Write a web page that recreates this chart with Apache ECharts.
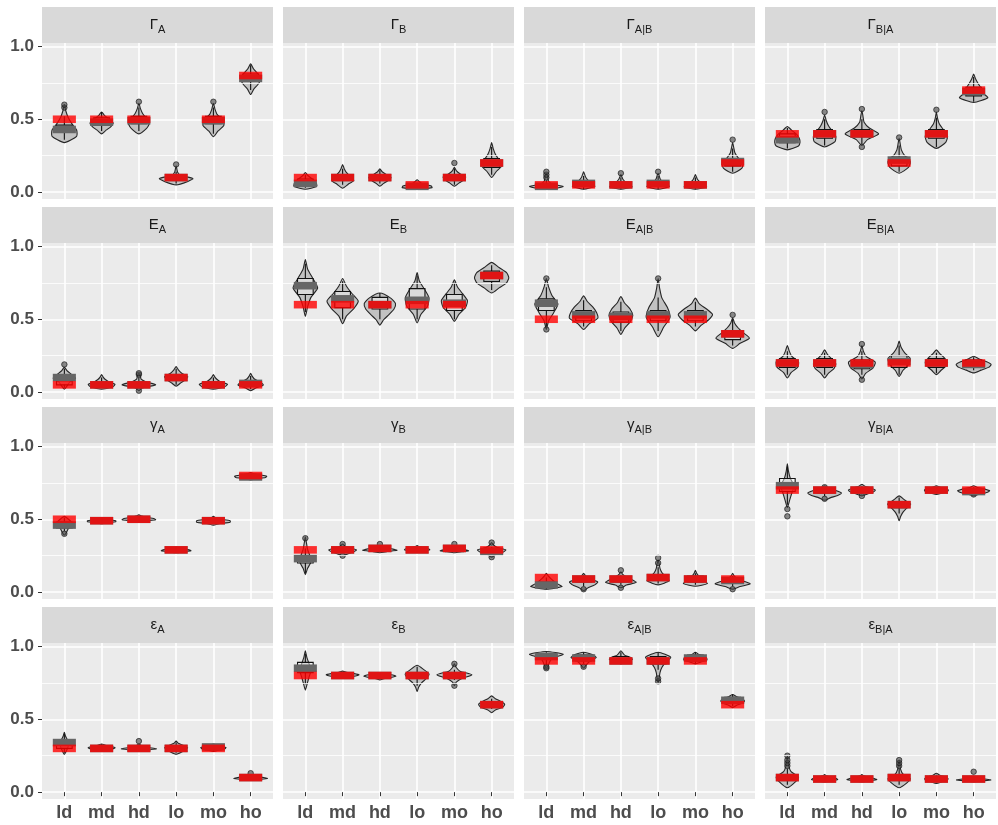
<!DOCTYPE html>
<html><head><meta charset="utf-8">
<script src="https://cdn.jsdelivr.net/npm/echarts@6/dist/echarts.min.js"></script>
<style>html,body{margin:0;padding:0;background:#fff}#c{width:998px;height:825px}</style>
</head><body><div id="c"></div>
<script>
const categories = ['ld','md','hd','lo','mo','ho'];
const panelSymbols = ['Γ','Γ','Γ','Γ','E','E','E','E','γ','γ','γ','γ','ε','ε','ε','ε'];
const panelSubs = ['A','B','A|B','B|A','A','B','A|B','B|A','A','B','A|B','B|A','A','B','A|B','B|A'];
const yTickValues = [0, 0.5, 1];
const yMinorValues = [0.25, 0.75];

// true values (red bars)
const trueVals = [
 [.5,.5,.5,.1,.5,.8],[.1,.1,.1,.05,.1,.2],[.05,.05,.05,.05,.05,.2],[.4,.4,.4,.2,.4,.7],
 [.05,.05,.05,.1,.05,.05],[.6,.6,.6,.6,.6,.8],[.5,.5,.5,.5,.5,.4],[.2,.2,.2,.2,.2,.2],
 [.5,.49,.5,.29,.49,.8],[.29,.29,.3,.29,.3,.29],[.1,.09,.09,.1,.09,.09],[.7,.7,.7,.6,.7,.7],
 [.3,.3,.3,.3,.3,.1],[.8,.8,.8,.8,.8,.6],[.9,.9,.9,.9,.9,.6],[.1,.09,.09,.1,.09,.09]
];
// estimated values (grey bars)
const estVals = [
 [.43,.48,.49,.10,.49,.78],[.06,.10,.10,.04,.10,.20],[.04,.06,.05,.06,.05,.21],[.36,.40,.40,.22,.40,.69],
 [.10,.05,.05,.10,.05,.06],[.73,.64,.60,.63,.61,.80],[.61,.53,.52,.53,.53,.40],[.20,.20,.19,.21,.20,.19],
 [.46,.49,.50,.29,.49,.79],[.23,.29,.30,.29,.30,.28],[.05,.09,.09,.10,.09,.08],[.73,.70,.70,.60,.70,.69],
 [.34,.30,.30,.30,.31,.10],[.85,.80,.80,.80,.80,.60],[.93,.92,.90,.90,.92,.63],[.10,.09,.09,.10,.09,.09]
];
// violin outlines: [low, high, half-widths at 1/6..5/6 of the range]
const violinShapes = [
 [[.34,.60,.33,.33,.20,.10,.04],[.40,.55,.12,.25,.31,.20,.08],[.40,.61,.20,.28,.20,.10,.04],[.05,.18,.30,.45,.12,.04,.02],[.38,.61,.12,.28,.25,.10,.04],[.67,.88,.08,.20,.27,.20,.08]],
 [[.02,.135,.30,.30,.25,.15,.06],[.027,.19,.15,.30,.20,.10,.04],[.04,.16,.10,.22,.30,.18,.06],[.02,.085,.40,.38,.20,.10,.05],[.04,.17,.12,.25,.30,.15,.05],[.10,.34,.12,.27,.20,.10,.04]],
 [[.02,.13,.45,.15,.06,.04,.03],[.02,.14,.30,.20,.12,.06,.03],[.02,.12,.30,.22,.12,.06,.03],[.02,.13,.30,.20,.10,.05,.03],[.02,.12,.30,.20,.12,.06,.03],[.13,.34,.25,.27,.15,.06,.03]],
 [[.29,.45,.30,.34,.32,.25,.12],[.31,.53,.28,.30,.20,.10,.04],[.32,.56,.15,.45,.20,.06,.03],[.13,.37,.25,.30,.15,.06,.03],[.30,.55,.25,.30,.20,.08,.03],[.615,.81,.38,.25,.20,.12,.05]],
 [[.02,.17,.08,.15,.30,.20,.08],[.02,.12,.30,.36,.20,.10,.04],[.01,.13,.10,.45,.20,.06,.04],[.04,.175,.12,.25,.31,.15,.06],[.02,.12,.30,.38,.20,.10,.04],[.01,.13,.15,.34,.25,.10,.04]],
 [[.52,.91,.06,.15,.33,.20,.06],[.47,.78,.10,.30,.42,.25,.10],[.46,.68,.10,.25,.38,.42,.30],[.475,.82,.10,.28,.32,.20,.06],[.486,.77,.12,.30,.35,.22,.08],[.68,.89,.20,.40,.46,.40,.20]],
 [[.43,.78,.06,.20,.31,.15,.06],[.43,.66,.15,.38,.35,.25,.10],[.395,.655,.10,.25,.32,.25,.10],[.38,.78,.15,.32,.25,.10,.04],[.42,.645,.15,.35,.46,.30,.10],[.30,.51,.20,.45,.30,.15,.05]],
 [[.097,.32,.10,.28,.30,.12,.05],[.097,.29,.10,.25,.30,.20,.08],[.09,.32,.10,.30,.36,.12,.04],[.108,.35,.10,.25,.30,.15,.05],[.12,.29,.12,.25,.30,.22,.10],[.132,.246,.20,.40,.47,.35,.15]],
 [[.39,.52,.06,.10,.15,.20,.12],[.47,.51,.20,.38,.38,.20,.08],[.48,.53,.20,.45,.40,.20,.08],[.27,.31,.20,.40,.35,.20,.06],[.46,.52,.15,.45,.45,.20,.06],[.77,.82,.15,.40,.43,.25,.08]],
 [[.12,.38,.06,.15,.12,.06,.03],[.25,.33,.15,.30,.37,.20,.06],[.27,.32,.20,.46,.35,.15,.05],[.275,.32,.20,.34,.30,.15,.05],[.27,.31,.20,.38,.30,.12,.05],[.24,.34,.10,.30,.38,.15,.05]],
 [[.02,.13,.42,.30,.20,.12,.05],[.01,.13,.12,.30,.38,.20,.06],[.03,.14,.15,.41,.30,.15,.05],[.05,.22,.30,.20,.10,.05,.03],[.04,.15,.32,.25,.15,.08,.03],[.02,.13,.20,.47,.30,.12,.04]],
 [[.58,.88,.06,.12,.18,.08,.03],[.63,.73,.15,.35,.45,.30,.10],[.66,.74,.15,.30,.36,.25,.08],[.49,.66,.04,.10,.20,.31,.15],[.67,.73,.15,.30,.32,.25,.10],[.66,.73,.15,.35,.43,.30,.10]],
 [[.26,.41,.06,.10,.12,.08,.03],[.28,.33,.15,.30,.36,.25,.10],[.28,.33,.20,.47,.30,.12,.05],[.26,.35,.15,.25,.31,.20,.06],[.28,.33,.15,.30,.34,.25,.10],[.08,.12,.20,.45,.35,.15,.05]],
 [[.70,.97,.05,.10,.15,.10,.04],[.78,.83,.15,.35,.44,.30,.10],[.77,.82,.10,.30,.43,.35,.15],[.69,.87,.04,.12,.25,.32,.18],[.73,.88,.05,.20,.47,.15,.05],[.545,.66,.10,.30,.35,.25,.10]],
 [[.85,.965,.05,.08,.12,.25,.45],[.85,.96,.06,.12,.20,.34,.25],[.88,.97,.15,.31,.25,.10,.05],[.75,.96,.03,.05,.10,.20,.34],[.88,.96,.15,.31,.30,.20,.08],[.58,.67,.10,.25,.32,.25,.10]],
 [[.03,.25,.20,.30,.10,.04,.02],[.07,.12,.20,.35,.30,.15,.05],[.07,.12,.20,.40,.30,.15,.05],[.03,.22,.20,.30,.10,.04,.02],[.06,.13,.15,.30,.31,.20,.08],[.07,.11,.20,.46,.30,.15,.05]]
];
// box stats: [whisker low, q1, median, q3, whisker high]
const boxStats = [
 [[.36,.41,.43,.46,.52],[.42,.46,.48,.51,.55],[.42,.47,.49,.52,.58],[.06,.08,.10,.11,.14],[.40,.47,.49,.52,.58],[.70,.76,.78,.81,.87]],
 [[.03,.05,.06,.09,.12],[.05,.08,.10,.12,.16],[.06,.08,.10,.12,.15],[.03,.04,.045,.05,.065],[.05,.08,.10,.12,.16],[.12,.17,.20,.23,.31]],
 [[.02,.03,.04,.05,.08],[.02,.04,.05,.07,.11],[.02,.04,.05,.07,.10],[.02,.04,.05,.07,.11],[.02,.04,.05,.06,.10],[.14,.18,.21,.23,.30]],
 [[.30,.34,.37,.40,.44],[.32,.37,.40,.43,.50],[.33,.38,.40,.43,.50],[.14,.18,.21,.24,.32],[.31,.37,.40,.43,.51],[.62,.66,.69,.72,.79]],
 [[.03,.05,.08,.11,.16],[.03,.04,.05,.07,.10],[.03,.04,.05,.07,.10],[.05,.08,.10,.12,.16],[.03,.04,.05,.07,.10],[.02,.04,.06,.07,.11]],
 [[.55,.67,.72,.78,.88],[.50,.58,.63,.69,.76],[.50,.57,.61,.65,.68],[.50,.57,.63,.71,.80],[.50,.56,.61,.67,.75],[.70,.76,.80,.83,.87]],
 [[.45,.56,.60,.64,.72],[.45,.49,.52,.56,.63],[.42,.48,.51,.55,.62],[.42,.49,.52,.56,.65],[.45,.49,.52,.56,.62],[.32,.36,.39,.42,.50]],
 [[.12,.17,.20,.23,.28],[.12,.17,.20,.23,.27],[.12,.16,.19,.22,.28],[.12,.17,.21,.25,.32],[.13,.17,.20,.23,.27],[.15,.18,.20,.22,.24]],
 [[.42,.44,.46,.48,.51],[.47,.48,.49,.50,.51],[.48,.49,.50,.51,.52],[.28,.285,.29,.30,.31],[.47,.48,.49,.50,.51],[.78,.79,.80,.805,.81]],
 [[.13,.20,.22,.25,.30],[.27,.28,.29,.30,.31],[.28,.29,.30,.305,.31],[.28,.285,.29,.30,.31],[.28,.29,.30,.305,.31],[.26,.28,.29,.30,.31]],
 [[.02,.03,.05,.07,.10],[.04,.07,.09,.10,.12],[.05,.07,.09,.10,.12],[.06,.08,.10,.12,.17],[.05,.07,.09,.11,.13],[.04,.06,.08,.09,.11]],
 [[.60,.69,.73,.78,.86],[.66,.68,.70,.71,.72],[.67,.69,.70,.71,.73],[.54,.58,.60,.62,.65],[.68,.69,.70,.71,.72],[.67,.68,.69,.70,.72]],
 [[.27,.30,.33,.36,.40],[.28,.29,.30,.31,.33],[.28,.29,.30,.31,.32],[.27,.29,.30,.32,.34],[.28,.29,.30,.31,.33],[.08,.09,.10,.11,.12]],
 [[.74,.82,.85,.89,.95],[.79,.795,.80,.81,.82],[.78,.79,.80,.81,.82],[.73,.78,.80,.82,.86],[.77,.79,.80,.81,.84],[.57,.59,.60,.62,.64]],
 [[.87,.91,.93,.95,.96],[.88,.90,.92,.94,.96],[.88,.89,.91,.93,.96],[.84,.88,.90,.93,.96],[.88,.90,.92,.94,.96],[.59,.61,.63,.65,.67]],
 [[.05,.08,.10,.12,.16],[.07,.08,.09,.10,.11],[.07,.08,.09,.10,.11],[.05,.08,.10,.12,.16],[.07,.08,.09,.10,.12],[.07,.08,.09,.10,.11]]
];
// outlier points per category
const outlierVals = [
 [[.58,.60],[],[.62],[.19],[.62],[]],
 [[],[],[],[],[.20],[]],
 [[.10,.12,.14],[],[.13],[.14],[],[.36]],
 [[],[.55],[.57,.31],[.375],[.565],[]],
 [[.19],[],[.12,.13,.01],[],[],[]],
 [[],[],[],[],[],[]],
 [[.78,.43],[],[],[.78],[],[.53]],
 [[],[],[.33,.085],[],[],[]],
 [[.40],[],[],[],[],[]],
 [[.37],[.33,.25],[.33],[],[.33],[.34,.24]],
 [[],[.02],[.15,.03],[.20,.235],[],[.02]],
 [[.52,.57],[.72,.64],[.66],[],[],[.67]],
 [[],[],[.35],[],[],[.13]],
 [[],[],[],[],[.88,.73],[]],
 [[.85,.86],[.86],[],[.76,.78],[],[]],
 [[.18,.20,.22,.25],[],[],[.18,.20,.22],[],[.14]]
];

const FONT = '"Liberation Sans", Arial, sans-serif';
const colX = [42, 283, 524, 765];
const PW = 231, PH = 156;
const BAR_HW = 0.31, BAR_HH = 0.026, BOX_HW = 0.21;
const catPos = categories.map((c, i) => i + 1);

function renderViolin(params, api) {
  const x = api.value(0), lo = api.value(1), hi = api.value(2);
  const ws = [0, api.value(3), api.value(4), api.value(5), api.value(6), api.value(7), 0];
  const right = [], left = [];
  for (let k = 0; k < 7; k++) {
    const y = lo + (hi - lo) * k / 6;
    right.push(api.coord([x + ws[k], y]));
    left.push(api.coord([x - ws[k], y]));
  }
  const pts = right.concat(left.slice(1, 6).reverse());
  return {type: 'polygon', shape: {points: pts, smooth: 0.2},
    style: {fill: '#C2C2C2', stroke: '#262626', lineWidth: 1.1}};
}
function renderBox(params, api) {
  const x = api.value(0);
  const wl = api.value(1), q1 = api.value(2), md = api.value(3), q3 = api.value(4), wh = api.value(5);
  const pWl = api.coord([x, wl]), pQ1 = api.coord([x, q1]), pQ3 = api.coord([x, q3]), pWh = api.coord([x, wh]);
  const a = api.coord([x - BOX_HW, q3]), b = api.coord([x + BOX_HW, q1]);
  const m1 = api.coord([x - BOX_HW, md]), m2 = api.coord([x + BOX_HW, md]);
  const ls = {stroke: '#111111', lineWidth: 1.1};
  return {type: 'group', children: [
    {type: 'line', shape: {x1: pWl[0], y1: pWl[1], x2: pQ1[0], y2: pQ1[1]}, style: ls},
    {type: 'line', shape: {x1: pQ3[0], y1: pQ3[1], x2: pWh[0], y2: pWh[1]}, style: ls},
    {type: 'rect', shape: {x: a[0], y: a[1], width: b[0] - a[0], height: b[1] - a[1]},
      style: {fill: 'rgba(255,255,255,0.4)', stroke: '#111111', lineWidth: 1.1}},
    {type: 'line', shape: {x1: m1[0], y1: m1[1], x2: m2[0], y2: m2[1]}, style: {stroke: '#111111', lineWidth: 1.6}}
  ]};
}
function barRenderer(fill) {
  return function (params, api) {
    const x = api.value(0), v = api.value(1);
    const a = api.coord([x - BAR_HW, v + BAR_HH]), b = api.coord([x + BAR_HW, v - BAR_HH]);
    return {type: 'rect', shape: {x: a[0], y: a[1], width: b[0] - a[0], height: b[1] - a[1]}, style: {fill: fill}};
  };
}

const grids = [], xAxes = [], yAxes = [], series = [], graphics = [];
for (let p = 0; p < 16; p++) {
  const r = Math.floor(p / 4), c = p % 4;
  const left = colX[c], top = 43 + 200 * r;
  grids.push({left: left, top: top, width: PW, height: PH, show: true, backgroundColor: '#EBEBEB',
    borderWidth: 0, containLabel: false, outerBoundsMode: 'none'});
  xAxes.push({type: 'value', gridIndex: p, min: 0.4, max: 6.6,
    axisLine: {show: false},
    axisTick: {show: r === 3, customValues: catPos, length: 4, lineStyle: {color: '#333333', width: 1}},
    axisLabel: {show: r === 3, customValues: catPos, formatter: v => categories[Math.round(v) - 1],
      margin: 5, fontSize: 18, fontWeight: 'bold', color: '#4D4D4D', fontFamily: FONT},
    splitLine: {show: true, lineStyle: {color: '#FFFFFF', width: 1.6}}});
  yAxes.push({type: 'value', gridIndex: p, min: -0.047, max: 1.023,
    axisLine: {show: false},
    axisTick: {show: c === 0, customValues: yTickValues, length: 4, lineStyle: {color: '#333333', width: 1}},
    axisLabel: {show: c === 0, customValues: yTickValues, formatter: v => v.toFixed(1),
      margin: 8, fontSize: 17, fontWeight: 'bold', color: '#4D4D4D', fontFamily: FONT},
    splitLine: {show: true, lineStyle: {color: '#FFFFFF', width: 1.6}}});

  graphics.push({type: 'rect', silent: true, shape: {x: left, y: 7 + 200 * r, width: PW, height: 36}, style: {fill: '#D9D9D9'}});
  graphics.push({type: 'text', silent: true, x: left + PW / 2, y: 25 + 200 * r,
    style: {text: '{g|' + panelSymbols[p] + '}{s|' + panelSubs[p] + '}', align: 'center', verticalAlign: 'middle',
      rich: {g: {fontSize: 15, fontFamily: FONT, fill: '#1A1A1A', color: '#1A1A1A'},
             s: {fontSize: 11, fontFamily: FONT, fill: '#1A1A1A', color: '#1A1A1A', padding: [10, 0, 0, 0]}}}});

  series.push({type: 'scatter', xAxisIndex: p, yAxisIndex: p, data: [], z: 1, silent: true,
    markLine: {silent: true, symbol: ['none', 'none'], label: {show: false}, animation: false,
      lineStyle: {color: '#FFFFFF', width: 0.8, type: 'solid'},
      data: yMinorValues.map(v => ({yAxis: v}))}});
  series.push({type: 'custom', xAxisIndex: p, yAxisIndex: p, z: 2, silent: true, renderItem: renderViolin,
    encode: {x: 0, y: [1, 2]}, data: violinShapes[p].map((v, j) => [catPos[j]].concat(v))});
  series.push({type: 'custom', xAxisIndex: p, yAxisIndex: p, z: 3, silent: true, renderItem: renderBox,
    encode: {x: 0, y: [1, 5]}, data: boxStats[p].map((v, j) => [catPos[j]].concat(v))});
  const outs = [];
  outlierVals[p].forEach((arr, j) => arr.forEach(v => outs.push([catPos[j], v])));
  series.push({type: 'scatter', xAxisIndex: p, yAxisIndex: p, z: 4, silent: true, symbolSize: 5.5, data: outs,
    itemStyle: {color: 'rgba(70,70,70,0.8)', borderColor: '#111111', borderWidth: 0.8}});
  series.push({type: 'custom', xAxisIndex: p, yAxisIndex: p, z: 5, silent: true, renderItem: barRenderer('#666666'),
    encode: {x: 0, y: 1}, data: estVals[p].map((v, j) => [catPos[j], v])});
  series.push({type: 'custom', xAxisIndex: p, yAxisIndex: p, z: 6, silent: true, renderItem: barRenderer('rgba(255,0,0,0.8)'),
    encode: {x: 0, y: 1}, data: trueVals[p].map((v, j) => [catPos[j], v])});
}

const chart = echarts.init(document.getElementById('c'), null, {renderer: 'canvas'});
chart.setOption({animation: false, backgroundColor: '#FFFFFF', grid: grids, xAxis: xAxes, yAxis: yAxes,
  series: series, graphic: graphics});
</script></body></html>
